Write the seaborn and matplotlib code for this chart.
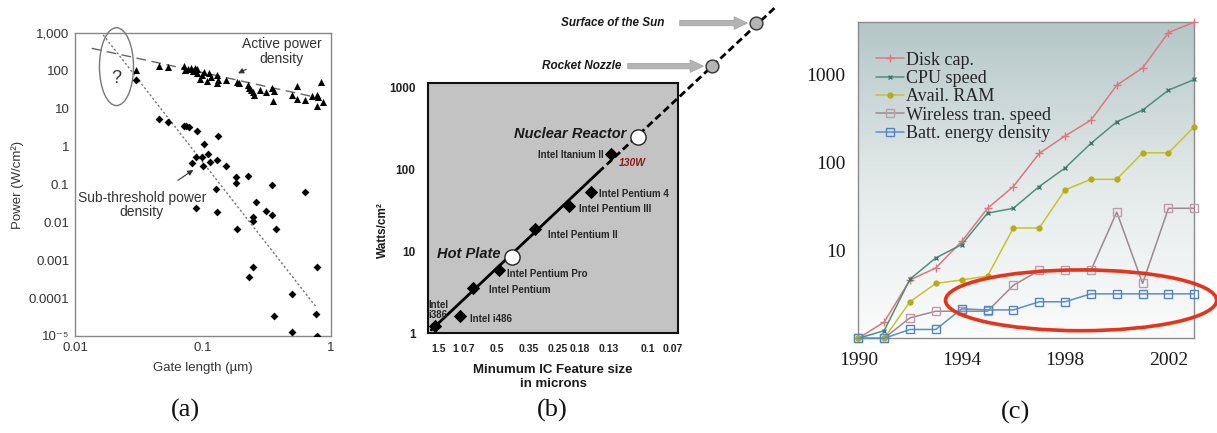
import numpy as np
import matplotlib
matplotlib.use("Agg")
import matplotlib.pyplot as plt
import seaborn as sns
from matplotlib.patches import Ellipse
from matplotlib.ticker import FixedLocator, NullLocator, NullFormatter
from matplotlib.colors import LinearSegmentedColormap

sns.set_theme(style="white")
plt.rcParams['font.family'] = ['Liberation Sans', 'DejaVu Sans']

# ---------------- (a) power density vs gate length ----------------
active_gate = [0.030, 0.045, 0.053, 0.071, 0.072, 0.077, 0.080, 0.084, 0.086, 0.089,
               0.090, 0.094, 0.098, 0.102, 0.107, 0.111, 0.115, 0.128, 0.129, 0.132,
               0.150, 0.183, 0.191, 0.226, 0.230, 0.236, 0.247, 0.250, 0.279, 0.309,
               0.348, 0.360, 0.350, 0.493, 0.540, 0.540, 0.627, 0.707, 0.773, 0.796,
               0.782, 0.830, 0.870]
active_power = [106, 137, 124, 135, 106, 110, 117, 101, 121, 86,
                110, 60, 78, 95, 55, 86, 70, 78, 49, 58,
                58, 52, 47, 42, 35, 31, 28, 23, 31, 28,
                35, 30, 16, 23, 40, 18, 17, 22, 23, 20,
                12, 51, 15]
sub_gate = [0.030, 0.045, 0.053, 0.071, 0.074, 0.078, 0.090, 0.132, 0.102, 0.082,
            0.088, 0.098, 0.110, 0.100, 0.113, 0.128, 0.150, 0.180, 0.180, 0.223,
            0.348, 0.627, 0.126, 0.088, 0.128, 0.259, 0.247, 0.247, 0.309, 0.348,
            0.372, 0.185, 0.247, 0.230, 0.498, 0.782, 0.360, 0.763, 0.498, 0.782]
sub_power = [58, 5.4, 4.6, 3.5, 3.4, 3.2, 2.6, 1.9, 1.18, 0.38,
             0.54, 0.54, 0.64, 0.31, 0.40, 0.45, 0.30, 0.16, 0.112, 0.17,
             0.098, 0.065, 0.075, 0.024, 0.019, 0.035, 0.014, 0.011, 0.020, 0.016,
             0.0066, 0.0066, 0.00066, 0.00036, 0.00013, 0.00068, 3.3e-5, 3.9e-5, 1.3e-5, 1.03e-5]
active_fit_gate = [0.0135, 0.82]
active_fit_power = [395, 19]
sub_fit_gate = [0.0166, 0.76]
sub_fit_power = [890, 6e-5]
a_yticks = [1e3, 1e2, 10, 1, 0.1, 0.01, 1e-3, 1e-4, 1e-5]
a_ytick_labels = ["1,000", "100", "10", "1", "0.1", "0.01", "0.001", "0.0001", "10\u207b\u2075"]
a_xticks = [0.01, 0.1, 1]
a_xtick_labels = ["0.01", "0.1", "1"]

# ---------------- (b) processor power density ----------------
chip_names = ["Intel\ni386", "Intel i486", "Intel Pentium", "Intel Pentium Pro",
              "Intel Pentium II", "Intel Pentium III", "Intel Pentium 4", "Intel Itanium II"]
chip_x = [1984.6, 1986.9, 1988.1, 1990.5, 1993.7, 1996.8, 1998.8, 2000.6]
chip_watts = [1.22, 1.63, 3.6, 5.9, 19, 36, 53, 154]
ref_names = ["Hot Plate", "Nuclear Reactor", "Rocket Nozzle", "Surface of the Sun"]
ref_x = [1991.6, 2003.1, 2009.8, 2013.8]
ref_watts = [8.5, 250, 1850, 6230]
node_x = [1985.0, 1986.5, 1987.6, 1990.3, 1993.2, 1995.8, 1997.8, 2000.4, 2004.0, 2006.3]
node_labels = ["1.5", "1", "0.7", "0.5", "0.35", "0.25", "0.18", "0.13", "0.1", "0.07"]
trend_x_solid = [1984.3, 1999.5]
trend_w_solid = [1.09, 93]
trend_x_dash = [1999.5, 2015.5]
trend_w_dash = [93, 9500]
b_yticks = [1, 10, 100, 1000]
b_ytick_labels = ["1", "10", "100", "1000"]

# ---------------- (c) growth of mobile technologies ----------------
years = list(range(1990, 2004))
disk_cap = [1.0, 1.53, 4.6, 6.3, 12.6, 30, 53, 126, 199, 301, 750, 1180, 2970, 3910]
cpu_speed = [1.0, 1.22, 4.7, 8.2, 11.6, 26.4, 30, 53, 86, 164, 288, 391, 659, 871]
avail_ram = [1.0, 1.0, 2.6, 4.2, 4.6, 5.1, 17.9, 17.9, 48.5, 64, 64, 128, 128, 253]
wireless_speed = [1.0, 1.0, 1.71, 2.03, 2.03, 2.03, 4.0, 5.9, 5.9, 5.9, 27.2, 4.2, 30, 30]
batt_density = [1.0, 1.0, 1.26, 1.26, 2.16, 2.1, 2.1, 2.6, 2.6, 3.2, 3.2, 3.2, 3.2, 3.2]
series_names = ["Disk cap.", "CPU speed", "Avail. RAM", "Wireless tran. speed", "Batt. energy density"]
c_yticks = [10, 100, 1000]
c_xticks = [1990, 1994, 1998, 2002]

W, H = 1217, 433
fig = plt.figure(figsize=(W / 100, H / 100), dpi=100)
fig.patch.set_facecolor("white")


def box(l, t, r, b):
    return [l / W, 1 - b / H, (r - l) / W, (b - t) / H]


def fx(px):
    return px / W


def fy(py):
    return 1 - py / H


# ================= panel (a) =================
ax = fig.add_axes(box(75, 33, 331, 336))
ax.set_xscale("log")
ax.set_yscale("log")
sns.lineplot(x=active_fit_gate, y=active_fit_power, ax=ax, color="#666666", linewidth=1.0,
             linestyle=(0, (7, 4)), estimator=None, sort=False)
sns.lineplot(x=sub_fit_gate, y=sub_fit_power, ax=ax, color="#777777", linewidth=1.0,
             linestyle=(0, (1.6, 1.6)), estimator=None, sort=False)
sns.scatterplot(x=active_gate, y=active_power, ax=ax, marker="^", s=26, color="black",
                linewidth=0, zorder=3)
sns.scatterplot(x=sub_gate, y=sub_power, ax=ax, marker="D", s=16, color="black",
                linewidth=0, zorder=3)
ax.set_xlim(0.01, 1)
ax.set_ylim(1e-5, 1e3)
ax.yaxis.set_major_locator(FixedLocator(a_yticks))
ax.set_yticklabels(a_ytick_labels)
ax.xaxis.set_major_locator(FixedLocator(a_xticks))
ax.set_xticklabels(a_xtick_labels)
ax.xaxis.set_minor_locator(NullLocator())
ax.yaxis.set_minor_locator(NullLocator())
ax.tick_params(direction="in", length=4, width=0.8, color="#777777", labelsize=9.5,
               labelcolor="#333333", pad=4)
for sp in ax.spines.values():
    sp.set_color("#888888")
    sp.set_linewidth(1.0)
ax.add_patch(Ellipse((0.162, 0.889), 0.133, 0.257, transform=ax.transAxes, fill=False,
                     ec="#777777", lw=1.0, clip_on=False, zorder=4))
ax.text(0.162, 0.851, "?", transform=ax.transAxes, ha="center", va="center", fontsize=13,
        color="#333333")
ax.annotate("Active power\ndensity", xy=(0.188, 86), xytext=(0.41, 321), ha="center",
            va="center", fontsize=10, color="#333333", linespacing=1.05,
            arrowprops=dict(arrowstyle="-|>", color="#333333", lw=0.8, mutation_scale=8,
                            shrinkA=9, shrinkB=0))
ax.annotate("Sub-threshold power\ndensity", xy=(0.084, 0.243), xytext=(0.0332, 0.029),
            ha="center", va="center", fontsize=10, color="#333333", linespacing=1.05,
            arrowprops=dict(arrowstyle="-|>", color="#333333", lw=0.8, mutation_scale=8,
                            shrinkA=9, shrinkB=0))
fig.text(fx(18), fy(185), "Power (W/cm\u00b2)", rotation=90, ha="center", va="center",
         fontsize=9.5, color="#333333")
fig.text(fx(203), fy(368), "Gate length (\u00b5m)", ha="center", va="center",
         fontsize=9.5, color="#333333")

# ================= panel (b) =================
ax = fig.add_axes(box(428, 83, 678, 333))
ax.set_yscale("log")
ax.set_facecolor("#c3c3c3")
sns.lineplot(x=trend_x_solid, y=trend_w_solid, ax=ax, color="black", linewidth=2.0,
             estimator=None, sort=False, zorder=2)
sns.lineplot(x=trend_x_dash, y=trend_w_dash, ax=ax, color="black", linewidth=2.0,
             linestyle=(0, (2.6, 1.4)), estimator=None, sort=False, clip_on=False, zorder=2)
sns.scatterplot(x=chip_x, y=chip_watts, ax=ax, marker="D", s=46, color="black",
                linewidth=0, zorder=4)
sns.scatterplot(x=ref_x[:2], y=ref_watts[:2], ax=ax, marker="o", s=120, color="white",
                edgecolor="#222222", linewidth=1.0, zorder=5)
sns.scatterplot(x=ref_x[2:], y=ref_watts[2:], ax=ax, marker="o", s=85, color="#b5b5b5",
                edgecolor="#333333", linewidth=1.0, zorder=5, clip_on=False)
ax.set_xlim(1984.0, 2006.73)
ax.set_ylim(1, 1150)
ax.yaxis.set_major_locator(FixedLocator(b_yticks))
ax.set_yticklabels(b_ytick_labels)
ax.yaxis.set_minor_locator(NullLocator())
ax.yaxis.set_minor_formatter(NullFormatter())
ax.xaxis.set_major_locator(FixedLocator(node_x))
ax.set_xticklabels(node_labels)
ax.tick_params(axis="y", length=0, labelsize=8.5, pad=9)
ax.tick_params(axis="x", length=0, labelsize=7.5, pad=8)
for lbl in ax.get_xticklabels() + ax.get_yticklabels():
    lbl.set_fontweight("bold")
    lbl.set_color("#222222")
for sp in ax.spines.values():
    sp.set_color("#111111")
    sp.set_linewidth(1.5)

chip_offsets = [(-6, 16), (10, -3), (16, -2), (8, -4), (13, -6), (10, -3), (8, -2), (-7, -1)]
for name, x, w, off in zip(chip_names, chip_x, chip_watts, chip_offsets):
    ax.annotate(name, xy=(x, w), xytext=off, textcoords="offset pixels",
                ha="right" if off[0] < 0 and "\n" not in name else "left", va="center",
                fontsize=7, fontweight="bold", color="#262626", linespacing=1.0,
                annotation_clip=False)
ax.annotate("130W", xy=(chip_x[-1], chip_watts[-1]), xytext=(8, -9),
            textcoords="offset pixels", ha="left", va="center", fontsize=7.5,
            fontweight="bold", fontstyle="italic", color="#8b1a1a")
ax.annotate(ref_names[0], xy=(ref_x[0], ref_watts[0]), xytext=(-11, 3),
            textcoords="offset pixels", ha="right", va="center", fontsize=10.5,
            fontweight="bold", fontstyle="italic", color="#1a1a1a")
ax.annotate(ref_names[1], xy=(ref_x[1], ref_watts[1]), xytext=(-12, 3),
            textcoords="offset pixels", ha="right", va="center", fontsize=10.5,
            fontweight="bold", fontstyle="italic", color="#1a1a1a")
for name, x, w, toff, aoff in [(ref_names[2], ref_x[2], ref_watts[2], -90, -84),
                               (ref_names[3], ref_x[3], ref_watts[3], -91, -76)]:
    ax.annotate(name, xy=(x, w), xytext=(toff, 0), textcoords="offset pixels",
                ha="right", va="center", fontsize=8.5, fontweight="bold",
                fontstyle="italic", color="#1a1a1a", annotation_clip=False)
    ax.annotate("", xy=(x, w), xytext=(aoff, 0), textcoords="offset pixels",
                annotation_clip=False,
                arrowprops=dict(arrowstyle="simple,head_length=0.8,head_width=0.75,tail_width=0.32",
                                mutation_scale=12, fc="#b3b3b3", ec="#a5a5a5", lw=0.6,
                                shrinkA=0, shrinkB=6))
fig.text(fx(383), fy(230), "Watts/cm\u00b2", rotation=90, ha="center", va="center",
         fontsize=8.5, fontweight="bold", color="#1a1a1a")
fig.text(fx(553), fy(377), "Minumum IC Feature size\nin microns", ha="center", va="center",
         fontsize=9.5, fontweight="bold", color="#1a1a1a", linespacing=1.3)

# ================= panel (c) =================
ax = fig.add_axes(box(858.3, 21.7, 1194.3, 338.3))
ax.set_yscale("log")
bg = LinearSegmentedColormap.from_list("bg", ["#fbfcfc", "#e3e9e9", "#b4c6c7"])
ax.imshow(np.linspace(1, 0, 256).reshape(-1, 1), aspect="auto", cmap=bg,
          extent=[0, 1, 0, 1], transform=ax.transAxes, zorder=0)
styles = [
    (disk_cap, "#de7680", "+", "#de7680", "#de7680", 6),
    (cpu_speed, "#4f8f7f", "x", "#3d7a6a", "#3d7a6a", 3.5),
    (avail_ram, "#c9c22a", "o", "#b5ad12", "#b5ad12", 3.5),
    (wireless_speed, "#9a8a90", "s", "#c09aaa", "none", 5.5),
    (batt_density, "#5d8fc4", "s", "#4f86c0", "none", 5.5),
]
for name, (vals, col, mk, mec, mfc, ms) in zip(series_names, styles):
    sns.lineplot(x=years, y=vals, ax=ax, color=col, linewidth=1.1, marker=mk,
                 markersize=ms, markeredgecolor=mec, markerfacecolor=mfc,
                 markeredgewidth=1.0, estimator=None, sort=False, label=name,
                 clip_on=False, zorder=3)
ax.set_xlim(1990, 2003)
ax.set_ylim(1, 3950)
ax.xaxis.set_major_locator(FixedLocator(c_xticks))
ax.xaxis.set_minor_locator(FixedLocator(years))
ax.xaxis.set_minor_formatter(NullFormatter())
ax.set_xticklabels([str(v) for v in c_xticks])
ax.yaxis.set_major_locator(FixedLocator(c_yticks))
ax.set_yticklabels([str(v) for v in c_yticks])
minor_y = [m * 10 ** e for e in range(0, 4) for m in range(2, 10) if m * 10 ** e < 3950]
ax.yaxis.set_minor_locator(FixedLocator(minor_y))
ax.yaxis.set_minor_formatter(NullFormatter())
ax.tick_params(which="both", direction="out", color="#8c8c8c", width=0.8,
               labelsize=14, labelcolor="#1a1a1a", labelfontfamily="Liberation Serif")
ax.tick_params(axis="x", which="both", length=5, pad=5)
ax.tick_params(axis="y", which="major", length=7, pad=2)
ax.tick_params(axis="y", which="minor", length=4)
for sp in ax.spines.values():
    sp.set_color("#8c8c8c")
    sp.set_linewidth(1.0)
leg = ax.legend(loc="upper left", bbox_to_anchor=(0.052, 0.905), frameon=False,
                prop={"family": "Liberation Serif", "size": 13}, handlelength=1.55,
                handletextpad=0.1, labelspacing=0.07, borderpad=0, borderaxespad=0)
ax.add_patch(Ellipse((0.663, 0.120), 0.807, 0.192, transform=ax.transAxes, fill=False,
                     ec="#e5341c", lw=2.6, clip_on=False, zorder=6))

# captions
for label, px, py in [("(a)", 185, 410), ("(b)", 552, 410), ("(c)", 1015, 412)]:
    fig.text(fx(px), fy(py), label, ha="center", va="center", fontsize=19,
             family="Liberation Serif", color="#111111")

fig.savefig("out.png", dpi=100, facecolor="white")
